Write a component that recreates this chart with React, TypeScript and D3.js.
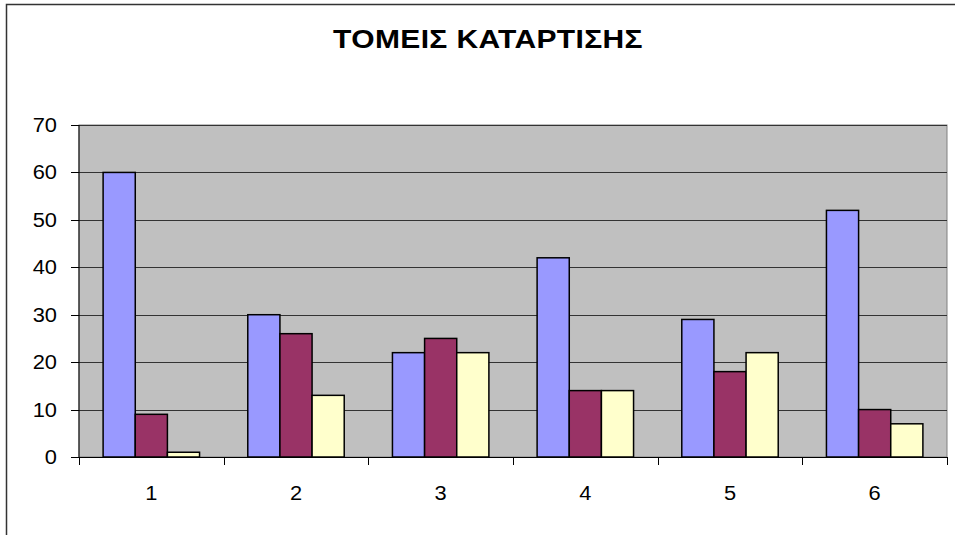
import * as React from 'react'
import {useEffect, useRef} from 'react'
import * as d3 from 'd3'

const title = 'ΤΟΜΕΙΣ ΚΑΤΑΡΤΙΣΗΣ'
const categories = ['1', '2', '3', '4', '5', '6']
const series1 = [60, 30, 22, 42, 29, 52]
const series2 = [9, 26, 25, 14, 18, 10]
const series3 = [1, 13, 22, 14, 22, 7]
const yTicks = [0, 10, 20, 30, 40, 50, 60, 70]

const colors = ['#9999FF', '#993366', '#FFFFCC']

const App = () => {
    const chartRef = useRef<SVGSVGElement>(null)
    const width = 955
    const height = 535
    const left = 79
    const right = 947
    const top = 125
    const bottom = 457

    useEffect(() => {
        const svg = d3.select(chartRef.current)
        svg.selectAll('*').remove()

        const allSeries = [series1, series2, series3]

        const xScale = d3.scaleBand()
                        .domain(categories)
                        .range([left, right])
                        .paddingInner(0)
                        .paddingOuter(0)

        const inner = d3.scaleBand()
                        .domain(['0', '1', '2'])
                        .range([0, xScale.bandwidth()])
                        .paddingOuter(0.75)
                        .paddingInner(0)

        const yScale = d3.scaleLinear()
                        .domain([0, 70])
                        .range([bottom, top])

        // chart frame (only left and top visible)
        svg.append('path')
            .attr('d', `M6.5,${height} L6.5,4.5 L${width},4.5`)
            .attr('fill', 'none')
            .attr('stroke', '#333')
            .attr('stroke-width', 1.5)

        // the original text is drawn a bit wider than the font, so stretch it
        svg.append('text')
            .attr('transform', 'translate(488,48) scale(1.2,1)')
            .attr('text-anchor', 'middle')
            .style('font-family', 'Liberation Sans, Arial, sans-serif')
            .style('font-weight', 'bold')
            .style('font-size', '25px')
            .style('letter-spacing', '0.3px')
            .text(title)

        // plot area
        svg.append('rect')
            .attr('x', left)
            .attr('y', top)
            .attr('width', right - left)
            .attr('height', bottom - top)
            .attr('fill', '#C0C0C0')
            .attr('stroke', '#808080')
            .attr('stroke-width', 1)

        svg.selectAll('line.grid')
            .data(yTicks.filter(t => t > 0))
            .enter()
            .append('line')
            .attr('class', 'grid')
            .attr('x1', left)
            .attr('x2', right)
            .attr('y1', d => Math.round(yScale(d)) + 0.5)
            .attr('y2', d => Math.round(yScale(d)) + 0.5)
            .attr('stroke', '#333')
            .attr('stroke-width', 1)

        // bars
        allSeries.forEach((values, s) => {
            svg.selectAll(`rect.s${s}`)
                .data(values)
                .enter()
                .append('rect')
                .attr('class', `s${s}`)
                .attr('x', (d, i) => (xScale(categories[i]) ?? 0) + (inner(String(s)) ?? 0))
                .attr('y', d => yScale(d))
                .attr('width', inner.bandwidth())
                .attr('height', d => bottom - yScale(d))
                .attr('fill', colors[s])
                .attr('stroke', '#000')
                .attr('stroke-width', 1.5)
        })

        // y axis
        svg.append('line')
            .attr('x1', left).attr('x2', left)
            .attr('y1', top).attr('y2', bottom)
            .attr('stroke', '#000')
        svg.selectAll('line.ytick')
            .data(yTicks)
            .enter()
            .append('line')
            .attr('x1', left - 8)
            .attr('x2', left)
            .attr('y1', d => Math.round(yScale(d)) + 0.5)
            .attr('y2', d => Math.round(yScale(d)) + 0.5)
            .attr('stroke', '#000')
        svg.selectAll('text.ylab')
            .data(yTicks)
            .enter()
            .append('text')
            .attr('transform', d => `translate(57,${yScale(d)}) scale(1.12,1)`)
            .attr('dy', '0.36em')
            .attr('text-anchor', 'end')
            .style('font-family', 'Liberation Sans, Arial, sans-serif')
            .style('font-size', '19.5px')
            .text(d => d)

        // x axis
        svg.append('line')
            .attr('x1', left).attr('x2', right)
            .attr('y1', bottom + 0.5).attr('y2', bottom + 0.5)
            .attr('stroke', '#000')
        const boundaries = categories.map(c => xScale(c) ?? 0).concat([right])
        svg.selectAll('line.xtick')
            .data(boundaries)
            .enter()
            .append('line')
            .attr('x1', d => Math.round(d) + 0.5)
            .attr('x2', d => Math.round(d) + 0.5)
            .attr('y1', bottom)
            .attr('y2', bottom + 8)
            .attr('stroke', '#000')
        svg.selectAll('text.xlab')
            .data(categories)
            .enter()
            .append('text')
            .attr('transform', d => `translate(${(xScale(d) ?? 0) + xScale.bandwidth() / 2},500) scale(1.12,1)`)
            .attr('text-anchor', 'middle')
            .style('font-family', 'Liberation Sans, Arial, sans-serif')
            .style('font-size', '19.5px')
            .text(d => d)
    }, [])

    return (
        <div style={{position: 'absolute', left: 0, top: 0}}>
            <svg ref={chartRef} width={width} height={height} style={{display: 'block', background: '#fff'}}></svg>
        </div>
    )
}

export default App
